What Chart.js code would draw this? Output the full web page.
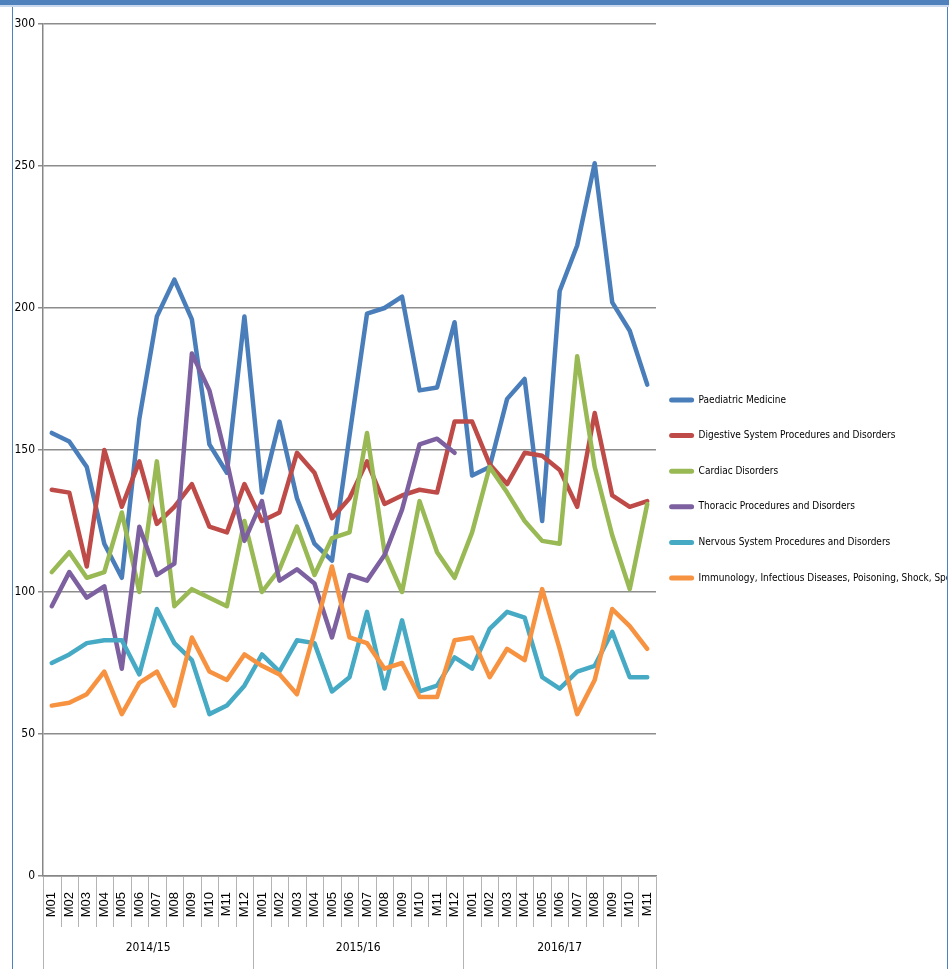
<!DOCTYPE html>
<html>
<head>
<meta charset="utf-8">
<script src="https://cdn.jsdelivr.net/npm/chart.js@4.4.0/dist/chart.umd.min.js"></script>
<style>
  html, body { margin: 0; padding: 0; background: #fff; }
  #topbar { position: absolute; left: 0; top: 0; width: 949px; height: 5px; background: #4f81bd; border-bottom: 2px solid #c9d8ec; }
  #frame { position: absolute; left: 12px; top: 7px; width: 934px; height: 962px; border-left: 1px solid #4f81bd; border-right: 1px solid #4f81bd; }
  #wrap { position: absolute; left: 0; top: -1px; width: 934px; height: 963px; }
</style>
</head>
<body>
<div id="topbar"></div>
<div id="frame"><div id="wrap"><canvas id="myChart"></canvas></div></div>
<script>
// categories
var years = ['2014/15', '2015/16', '2016/17'];
var monthsByYear = [
    ['M01', 'M02', 'M03', 'M04', 'M05', 'M06', 'M07', 'M08', 'M09', 'M10', 'M11', 'M12'],
    ['M01', 'M02', 'M03', 'M04', 'M05', 'M06', 'M07', 'M08', 'M09', 'M10', 'M11', 'M12'],
    ['M01', 'M02', 'M03', 'M04', 'M05', 'M06', 'M07', 'M08', 'M09', 'M10', 'M11']
];

// series values
var paediatric = [156, 153, 144, 117, 105, 161, 197, 210, 196, 152, 142, 197,
                  135, 160, 133, 117, 111, 155, 198, 200, 204, 171, 172, 195,
                  141, 144, 168, 175, 125, 206, 222, 251, 202, 192, 173];
var digestive  = [136, 135, 109, 150, 130, 146, 124, 130, 138, 123, 121, 138,
                  125, 128, 149, 142, 126, 133, 146, 131, 134, 136, 135, 160,
                  160, 145, 138, 149, 148, 143, 130, 163, 134, 130, 132];
var cardiac    = [107, 114, 105, 107, 128, 100, 146, 95, 101, 98, 95, 125,
                  100, 108, 123, 106, 119, 121, 156, 114, 100, 132, 114, 105,
                  121, 144, 135, 125, 118, 117, 183, 144, 120, 101, 131];
var thoracic   = [95, 107, 98, 102, 73, 123, 106, 110, 184, 171, 146, 118,
                  132, 104, 108, 103, 84, 106, 104, 113, 129, 152, 154, 149];
var nervous    = [75, 78, 82, 83, 83, 71, 94, 82, 76, 57, 60, 67,
                  78, 72, 83, 82, 65, 70, 93, 66, 90, 65, 67, 77,
                  73, 87, 93, 91, 70, 66, 72, 74, 86, 70, 70];
var immunology = [60, 61, 64, 72, 57, 68, 72, 60, 84, 72, 69, 78,
                  74, 71, 64, 86, 109, 84, 82, 73, 75, 63, 63, 83,
                  84, 70, 80, 76, 101, 80, 57, 69, 94, 88, 80];

var seriesNames = ['Paediatric Medicine', 'Digestive System Procedures and Disorders', 'Cardiac Disorders',
                   'Thoracic Procedures and Disorders', 'Nervous System Procedures and Disorders',
                   'Immunology, Infectious Diseases, Poisoning, Shock, Special E'];
var seriesValues = [paediatric, digestive, cardiac, thoracic, nervous, immunology];
var seriesColors = ['#4a7ebb', '#be4b48', '#98b954', '#7d60a0', '#46aac5', '#f69240'];

var labels = [];
monthsByYear.forEach(function (m) { labels = labels.concat(m); });

var narrow = '"Liberation Sans Narrow", "DejaVu Sans Condensed", sans-serif';

// keep the legend column at a fixed width so the plot ends where the original does
var legendWidth = {
    id: 'legendWidth',
    beforeLayout: function (chart) {
        var lg = chart.legend;
        if (lg && !lg._fixedWidth) {
            var fit = lg.fit;
            lg.fit = function () { fit.call(this); this.width = 291; };
            lg._fixedWidth = true;
        }
    }
};

// month separators, year labels under the x axis, legend line samples
var yearBands = {
    id: 'yearBands',
    afterDraw: function (chart) {
        var x = chart.scales.x, ctx = chart.ctx;
        var n = labels.length;
        var edge = function (i) {
            if (i === 0) return x.left;
            if (i === n) return x.right;
            return (x.getPixelForTick(i - 1) + x.getPixelForTick(i)) / 2;
        };
        var starts = [0];
        monthsByYear.forEach(function (m, k) { starts.push(starts[k] + m.length); });
        ctx.save();
        ctx.strokeStyle = '#b4b4b4';
        ctx.lineWidth = 1;
        for (var i = 0; i <= n; i++) {
            var px = Math.round(edge(i)) + 0.5;
            var isYear = starts.indexOf(i) >= 0;
            ctx.beginPath();
            ctx.moveTo(px, x.top + 1);
            ctx.lineTo(px, x.top + (isYear ? 95 : 51));
            ctx.stroke();
        }
        ctx.fillStyle = '#000';
        ctx.font = '12px ' + narrow;
        ctx.textAlign = 'center';
        ctx.textBaseline = 'middle';
        years.forEach(function (y, k) {
            var cx = (edge(starts[k]) + edge(starts[k + 1])) / 2;
            ctx.fillText(y, cx, x.top + 72);
        });
        chart.legend.legendHitBoxes.forEach(function (hb, k) {
            var cy = hb.top + hb.height / 2;
            ctx.strokeStyle = seriesColors[k];
            ctx.lineWidth = 5;
            ctx.lineCap = 'round';
            ctx.beginPath();
            ctx.moveTo(hb.left + 2, cy);
            ctx.lineTo(hb.left + 22, cy);
            ctx.stroke();
        });
        ctx.restore();
    }
};

var ctx = document.getElementById('myChart').getContext('2d');
var myChart = new Chart(ctx, {
    type: 'line',
    data: {
        labels: labels,
        datasets: seriesNames.map(function (name, k) {
            return {
                label: name,
                data: seriesValues[k],
                borderColor: seriesColors[k],
                backgroundColor: seriesColors[k],
                borderWidth: 4.5,
                borderCapStyle: 'round',
                borderJoinStyle: 'round',
                pointRadius: 0,
                tension: 0,
                fill: false,
                order: seriesNames.length - k
            };
        })
    },
    options: {
        responsive: true,
        maintainAspectRatio: false,
        animation: false,
        layout: { padding: { top: 18, right: 0, left: 0, bottom: 15 } },
        scales: {
            x: {
                type: 'category',
                offset: true,
                grid: { drawOnChartArea: false, drawTicks: false, offset: true },
                border: { color: '#868686', width: 1.5 },
                ticks: {
                    autoSkip: false,
                    minRotation: 90,
                    maxRotation: 90,
                    padding: 16,
                    color: '#000',
                    font: { family: '"Liberation Sans", Arial, sans-serif', size: 13 }
                },
                afterFit: function (scale) { scale.height = 78; }
            },
            y: {
                min: 0,
                max: 300,
                ticks: {
                    stepSize: 50,
                    padding: 3,
                    color: '#000',
                    font: { family: narrow, size: 12 }
                },
                grid: { color: '#8c8c8c', lineWidth: 1.5, tickLength: 5 },
                border: { color: '#868686', width: 1.5 },
                afterFit: function (scale) { scale.width = 30; }
            }
        },
        plugins: {
            legend: {
                position: 'right',
                labels: {
                    boxWidth: 24,
                    boxHeight: 22,
                    padding: 13.6,
                    color: '#000',
                    font: { family: narrow, size: 10 },
                    generateLabels: function (chart) {
                        return chart.data.datasets.map(function (ds, i) {
                            return {
                                text: ds.label,
                                fillStyle: 'rgba(0,0,0,0)',
                                strokeStyle: 'rgba(0,0,0,0)',
                                lineWidth: 0,
                                hidden: false,
                                datasetIndex: i
                            };
                        });
                    }
                }
            },
            tooltip: { enabled: false }
        }
    },
    plugins: [legendWidth, yearBands]
});
</script>
</body>
</html>
